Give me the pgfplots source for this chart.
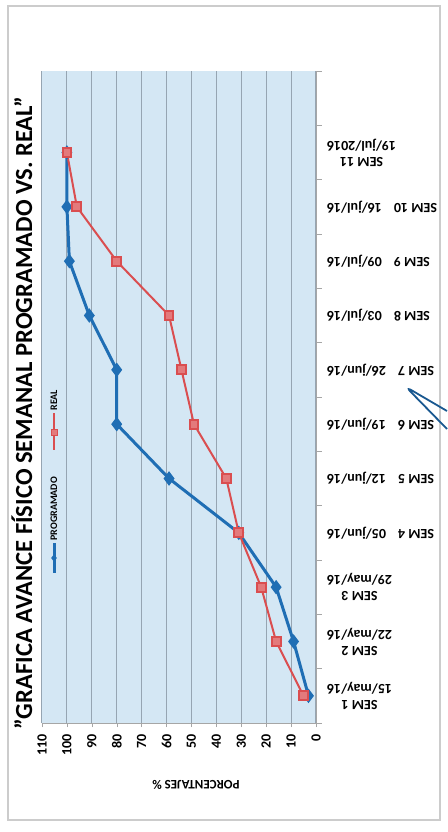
\documentclass[border=0pt]{standalone}
\usepackage{fontspec}
\setmainfont{Carlito}
\usepackage{pgfplots}
\pgfplotsset{compat=1.18}
\usetikzlibrary{shapes.geometric}
\definecolor{prog}{RGB}{31,110,180}
\definecolor{real}{RGB}{218,78,80}
\definecolor{fondo}{RGB}{212,231,244}
\definecolor{rejilla}{RGB}{150,165,178}

\begin{document}
\begin{tikzpicture}
\useasboundingbox (-21pt,-54.5pt) rectangle (202.5pt,361.5pt);
\fill[white] (-21pt,-54.5pt) rectangle (202.5pt,361.5pt);
\draw[gray!40, line width=0.8pt] (-17pt,-48.5pt) rectangle (199pt,358.5pt);
\begin{axis}[
    at={(0,0)}, anchor=south west,
    scale only axis, width=137pt, height=326pt,
    x dir=reverse,
    xmin=0, xmax=110, ymin=0.5, ymax=12.5,
    xtick={0,10,...,110},
    ytick={1,...,11},
    yticklabels={{SEM 1\\15/may/16},{SEM 2\\22/may/16},{SEM 3\\29/may/16},
        {SEM 4\hspace{6pt}05/jun/16},{SEM 5\hspace{6pt}12/jun/16},
        {SEM 6\hspace{6pt}19/jun/16},{SEM 7\hspace{6pt}26/jun/16},
        {SEM 8\hspace{6pt}03/jul/16},{SEM 9\hspace{6pt}09/jul/16},
        {SEM 10\hspace{6pt}16/jul/16},{SEM 11\\19/jul/2016}},
    minor ytick={0.5,1.5,...,12.5},
    major y tick style={draw=none},
    minor tick length=3pt,
    major tick length=2pt,
    tick align=outside,
    tick style={gray!70},
    axis x line*=bottom, axis y line*=right,
    axis line style={gray!70},
    axis background/.style={fill=fondo},
    xmajorgrids, grid style={rejilla, line width=0.5pt},
    /pgf/number format/assume math mode=true,
    xticklabel style={rotate=90, anchor=east, font=\bfseries\fontsize{7}{8}\selectfont},
    yticklabel style={rotate=180, anchor=east, align=center, font=\bfseries\fontsize{7}{8}\selectfont},
]
\addplot[prog, line width=1.5pt, mark=diamond*, mark size=2.4pt] coordinates {
    (3,1) (9,2) (16,3) (31,4) (59,5) (80,6) (80,7) (91,8) (99,9) (100,10) (100,11)
};
\addplot[real, line width=1pt, mark=square*, mark size=2.2pt,
    mark options={fill=real!75!white, draw=real}] coordinates {
    (5,1) (16,2) (22,3) (31,4) (36,5) (49,6) (54,7) (59,8) (80,9) (96,10) (100,11)
};
\end{axis}
% eje de porcentajes
\node[rotate=180, font=\bfseries\fontsize{6.5}{8}\selectfont] at (77pt,-31pt) {PORCENTAJES \%};
% titulo
\node[rotate=90, font=\bfseries\fontsize{12.3}{14}\selectfont] at (-10pt,155pt)
    {"GRAFICA AVANCE FÍSICO SEMANAL PROGRAMADO VS. REAL"};
% leyenda (girada como el resto del grafico)
\draw[prog, line width=1.5pt] (6pt,75pt) -- (6pt,90pt);
\node[diamond, fill=prog, inner sep=0pt, minimum width=3pt, minimum height=4pt] at (6pt,82.5pt) {};
\node[rotate=90, anchor=west, inner sep=0.5pt, font=\bfseries\fontsize{5}{6}\selectfont] at (6pt,90.5pt) {PROGRAMADO};
\draw[real, line width=1pt] (6pt,136.5pt) -- (6pt,155pt);
\node[rectangle, fill=real!75!white, draw=real, inner sep=0pt, minimum size=3pt] at (6pt,145.5pt) {};
\node[rotate=90, anchor=west, inner sep=0.5pt, font=\bfseries\fontsize{5}{6}\selectfont] at (6pt,155.5pt) {REAL};
% trazo a mano
\draw[prog!80!black, line width=0.9pt, rounded corners=3pt]
    (202.5pt,147pt) -- (182pt,168pt) -- (202.5pt,156pt);
\end{tikzpicture}
\end{document}
